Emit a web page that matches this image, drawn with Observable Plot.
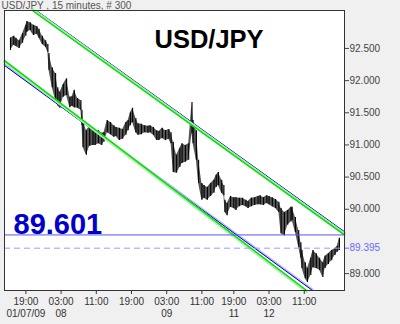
<!DOCTYPE html>
<html><head><meta charset="utf-8">
<script src="https://cdn.jsdelivr.net/npm/d3@7"></script>
<script src="https://cdn.jsdelivr.net/npm/@observablehq/plot@0.6"></script>
<style>
html,body{margin:0;padding:0;background:#f0f0f0;}
</style></head><body><div id="chart"></div>
<script>
// bar index (15-minute bars, 0..299) sampled along the series
const bar = [0,3,5,8,11,14,15,18,21,24,26,29,32,34,35,38,41,43,45,48,51,54,56,58,61,64,65,66,69,72,75,77,80,83,85,88,91,94,96,99,102,105,107,109,111,114,116,119,122,125,127,130,133,135,138,141,144,146,148,151,154,156,159,162,165,166,169,171,174,176,179,182,185,187,189,192,194,195,197,200,203,205,208,211,214,216,219,222,225,227,230,233,235,238,241,244,246,249,252,255,256,259,262,264,265,268,270,273,275,278,281,284,286,289,292,295,297,299];
const high = [92.66,92.69,92.66,92.62,92.73,92.86,92.92,92.90,92.86,92.84,92.80,92.69,92.62,92.56,92.42,92.20,92.11,91.89,91.82,91.94,92.03,91.74,91.75,91.85,91.72,91.69,91.54,91.38,91.22,91.29,91.26,91.19,91.22,91.18,91.19,91.38,91.35,91.30,91.27,91.26,91.24,91.35,91.38,91.50,91.57,91.41,91.33,91.32,91.30,91.29,91.30,91.27,91.22,91.21,91.26,91.22,91.24,91.19,91.04,90.84,90.95,91.02,90.99,91.02,91.66,91.38,91.22,90.76,90.40,90.37,90.34,90.40,90.45,90.53,90.57,90.45,90.37,90.14,90.09,90.20,90.18,90.18,90.17,90.17,90.14,90.12,90.17,90.18,90.20,90.21,90.18,90.21,90.20,90.18,90.15,90.11,90.01,89.95,89.98,90.03,90.03,89.87,89.67,89.48,89.36,89.17,89.08,89.24,89.36,89.31,89.24,89.17,89.27,89.31,89.36,89.39,89.42,89.55];
const low = [92.47,92.55,92.53,92.50,92.58,92.69,92.75,92.78,92.70,92.72,92.66,92.56,92.52,92.44,92.16,91.89,91.69,91.61,91.57,91.74,91.77,91.58,91.60,91.58,91.57,91.54,91.30,90.96,90.84,90.98,90.99,90.99,91.02,90.99,91.04,91.19,91.16,91.12,91.13,91.07,91.09,91.15,91.22,91.30,91.35,91.19,91.15,91.16,91.19,91.18,91.19,91.15,91.07,91.07,91.10,91.07,91.09,91.02,90.57,90.56,90.65,90.71,90.73,90.76,91.18,91.02,90.76,90.40,90.14,90.17,90.14,90.20,90.25,90.34,90.37,90.25,90.21,89.95,89.90,90.03,90.01,89.98,90.04,90.06,90.04,90.01,90.04,90.06,90.07,90.07,90.06,90.09,90.07,90.04,90.01,89.95,89.62,89.59,89.75,89.80,89.83,89.64,89.41,89.24,89.08,88.92,88.86,88.97,89.09,89.08,89.05,88.94,89.08,89.14,89.20,89.28,89.33,89.36];

const yTicks = [89, 90, 90.5, 91, 91.5, 92, 92.5];
const xTicks = [14, 46, 78, 110, 142, 174, 203, 235, 267];
const timeLabels = ["19:00","03:00","11:00","19:00","03:00","11:00","19:00","03:00","11:00"];
const dateTicks = [14, 46, 142, 203, 235];
const dateLabels = ["01/07/09","08","09","11","12"];

// channel lines: [bar, price] endpoints
const upperGreen = [[20, 93.09], [303.6, 89.601]];
const upperBlue  = [[23.5, 93.09], [303.6, 89.65]];
const lowerGreen = [[-5.45, 92.31], [269.1, 88.737]];
const lowerBlue  = [[-5.45, 92.236], [274.5, 88.737]];

const channelLevel = 89.601;
const lastClose = 89.395;
const chartTitle = "USD/JPY";
const headerText = "USD/JPY , 15 minutes, # 300";

const bars = bar.map((b, i) => ({bar: b, high: high[i], low: low[i]}));
const seg = a => a.map(([b, p]) => ({bar: b, price: p}));
const fmt = d3.format(".3f");
const F = "Liberation Sans, Arial, sans-serif";

const chart = Plot.plot({
  width: 400, height: 324,
  marginLeft: 4, marginRight: 56, marginTop: 10, marginBottom: 34,
  style: {background: "#f0f0f0", fontFamily: F, fontSize: "10px", overflow: "visible"},
  x: {domain: [-5.45, 303.6], label: null},
  y: {domain: [88.737, 93.09], label: null},
  marks: [
    Plot.frame({fill: "white", stroke: null}),
    Plot.areaY(bars, {x: "bar", y1: "low", y2: "high", fill: "#555"}),
    Plot.ruleX(bars, {x: "bar", y1: "low", y2: "high", stroke: "#000", strokeWidth: 1.1}),
    // blue channel lines
    Plot.line(seg(upperBlue), {x: "bar", y: "price", stroke: "#b8b8f4", strokeWidth: 2, dy: 1}),
    Plot.line(seg(upperBlue), {x: "bar", y: "price", stroke: "#0000c0", strokeWidth: 1}),
    Plot.line(seg(lowerBlue), {x: "bar", y: "price", stroke: "#b8b8f4", strokeWidth: 2, dy: -1}),
    Plot.line(seg(lowerBlue), {x: "bar", y: "price", stroke: "#0000c0", strokeWidth: 1}),
    // green channel lines
    Plot.line(seg(upperGreen), {x: "bar", y: "price", stroke: "#a8f0a8", strokeWidth: 3, dy: -1}),
    Plot.line(seg(upperGreen), {x: "bar", y: "price", stroke: "#00e000", strokeWidth: 1.4}),
    Plot.line(seg(lowerGreen), {x: "bar", y: "price", stroke: "#a8f0a8", strokeWidth: 3, dy: 1}),
    Plot.line(seg(lowerGreen), {x: "bar", y: "price", stroke: "#00e000", strokeWidth: 1.4}),
    // levels
    Plot.ruleY([channelLevel], {stroke: "#5555ee", strokeWidth: 1}),
    Plot.ruleY([lastClose], {stroke: "#9999ff", strokeWidth: 1, strokeDasharray: "6,4"}),
    Plot.frame({stroke: "#333"}),
    // axes
    Plot.axisY({anchor: "right", ticks: yTicks, tickFormat: fmt, tickSize: 4, tickPadding: 1, color: "#444", fontSize: 10, label: null}),
    Plot.axisY({anchor: "right", ticks: [lastClose], tickFormat: fmt, tickSize: 4, tickPadding: 1, color: "#6a6aff", fontSize: 10, label: null}),
    Plot.axisX({ticks: xTicks, tickFormat: d => timeLabels[xTicks.indexOf(d)], tickSize: 4, tickPadding: 3, color: "#333", fontSize: 10, label: null}),
    Plot.text(dateTicks.map((b, i) => ({bar: b, label: dateLabels[i]})), {x: "bar", text: "label", frameAnchor: "bottom", lineAnchor: "top", dy: 19, fill: "#333", fontSize: 10}),
    // texts
    Plot.text([headerText], {frameAnchor: "top-left", lineAnchor: "bottom", textAnchor: "start", dx: -3, dy: -2, fill: "#555", fontSize: 10}),
    Plot.text([chartTitle], {frameAnchor: "top-left", lineAnchor: "top", textAnchor: "start", dx: 150, dy: 19, fill: "#000", fontSize: 25.5, fontWeight: "bold"}),
    Plot.text([channelLevel], {y: d => d, text: d => fmt(d), frameAnchor: "left", textAnchor: "start", lineAnchor: "bottom", dx: 9, dy: -1, fill: "#0000cc", fontSize: 29, fontWeight: "bold"})
  ]
});
document.getElementById("chart").appendChild(chart);
</script></body></html>
